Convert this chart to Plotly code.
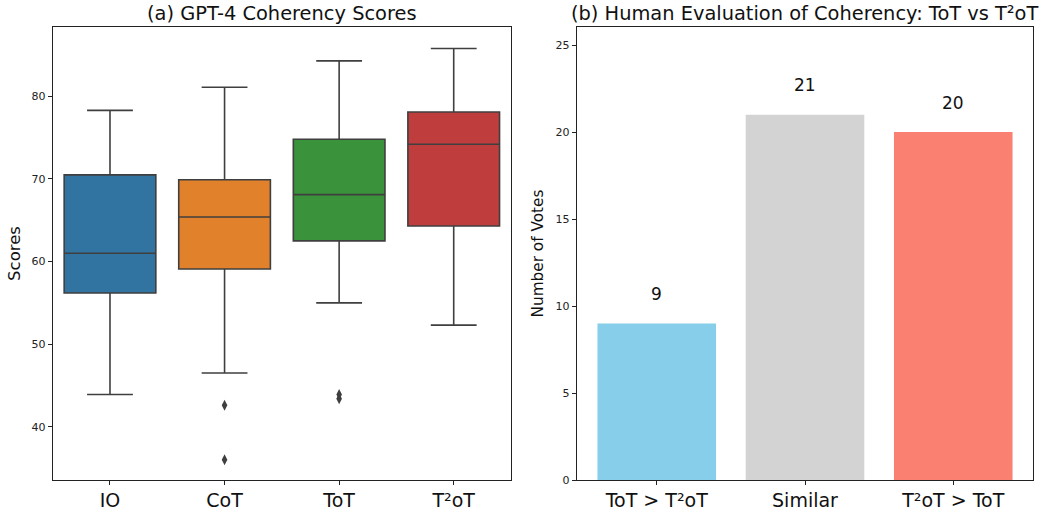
import plotly.graph_objects as go

# ---- data: (a) GPT-4 coherency score box stats ----
methods = ["IO", "CoT", "ToT", "T²oT"]
q1 = [56.2, 59.1, 62.5, 64.3]
median = [61.0, 65.4, 68.1, 74.2]
q3 = [70.5, 69.9, 74.8, 78.1]
lower_whisker = [43.9, 46.5, 55.0, 52.3]
upper_whisker = [78.3, 81.1, 84.3, 85.8]
outlier_method = ["CoT", "CoT", "ToT", "ToT"]
outlier_value = [42.6, 36.0, 43.4, 43.9]
box_colors = ["#3274a1", "#e1812c", "#3a923a", "#c03d3e"]

# ---- data: (b) human evaluation votes ----
vote_cats = ["ToT > T²oT", "Similar", "T²oT > ToT"]
votes = [9, 21, 20]
bar_colors = ["#87ceeb", "#d3d3d3", "#fa8072"]

FONT = "DejaVu Sans"
LINE = "#3f3f3f"
W, H = 1051, 510


def px(x):
    return x / W


def py(y):
    return 1 - y / H


fig = go.Figure()

for m, a, med, b, lo, hi, c in zip(methods, q1, median, q3, lower_whisker, upper_whisker, box_colors):
    fig.add_trace(go.Box(
        x=[m], q1=[a], median=[med], q3=[b], lowerfence=[lo], upperfence=[hi],
        fillcolor=c, line=dict(color=LINE, width=1.6), width=0.8, whiskerwidth=0.5,
        boxpoints=False, showlegend=False, xaxis="x", yaxis="y", name=m,
    ))

fig.add_trace(go.Scatter(
    x=outlier_method, y=outlier_value, mode="markers",
    marker=dict(symbol="diamond-tall", size=8, color=LINE),
    showlegend=False, xaxis="x", yaxis="y",
))

fig.add_trace(go.Bar(
    x=vote_cats, y=votes, marker=dict(color=bar_colors, line=dict(width=0)),
    width=0.8, showlegend=False, xaxis="x2", yaxis="y2",
))

for cat, v in zip(vote_cats, votes):
    fig.add_annotation(x=cat, y=v + 1, xref="x2", yref="y2", text=str(v),
                       showarrow=False, yanchor="bottom",
                       font=dict(family=FONT, size=17, color="#111"))

top = py(27)
bot = py(480)

axis_common = dict(showline=True, linecolor="#222", linewidth=1, mirror=True,
                   showgrid=False, zeroline=False, ticks="outside", ticklen=4,
                   tickcolor="#222", tickwidth=1, automargin=False)

fig.update_layout(
    width=W, height=H,
    margin=dict(l=0, r=0, t=0, b=0),
    paper_bgcolor="white", plot_bgcolor="white",
    template="none",
    boxmode="overlay",
    font=dict(family=FONT, color="#222"),
    xaxis=dict(domain=[px(52.7), px(511)], anchor="y", type="category",
               categoryorder="array", categoryarray=methods, range=[-0.5, 3.5],
               tickfont=dict(size=19, color="#111"), ticklabelstandoff=-1, **axis_common),
    yaxis=dict(domain=[bot, top], anchor="x", range=[33.55, 88.4],
               tickvals=[40, 50, 60, 70, 80], tickfont=dict(size=11),
               title=dict(text="Scores", font=dict(size=16.5, color="#111"), standoff=6),
               **axis_common),
    xaxis2=dict(domain=[px(576.7), px(1033.3)], anchor="y2", type="category",
                categoryorder="array", categoryarray=vote_cats, range=[-0.54, 2.54],
                tickfont=dict(size=19, color="#111"), ticklabelstandoff=-1, **axis_common),
    yaxis2=dict(domain=[bot, top], anchor="x2", range=[0, 26.04],
                tickvals=[0, 5, 10, 15, 20, 25], tickfont=dict(size=11),
                title=dict(text="Number of Votes", font=dict(size=15.3, color="#111"), standoff=8),
                **axis_common),
)

fig.add_annotation(x=px((52.7 + 511) / 2), y=py(13), xref="paper", yref="paper",
                   text="(a) GPT-4 Coherency Scores", showarrow=False,
                   xanchor="center", yanchor="middle",
                   font=dict(family=FONT, size=19.4, color="#111"))
fig.add_annotation(x=px((576.7 + 1033.3) / 2), y=py(13), xref="paper", yref="paper",
                   text="(b) Human Evaluation of Coherency: ToT vs T²oT", showarrow=False,
                   xanchor="center", yanchor="middle",
                   font=dict(family=FONT, size=19.4, color="#111"))

fig.write_html(
    "out.html",
    config={"displayModeBar": False},
    post_script="document.body.style.margin='0';document.body.style.overflow='hidden';",
)
